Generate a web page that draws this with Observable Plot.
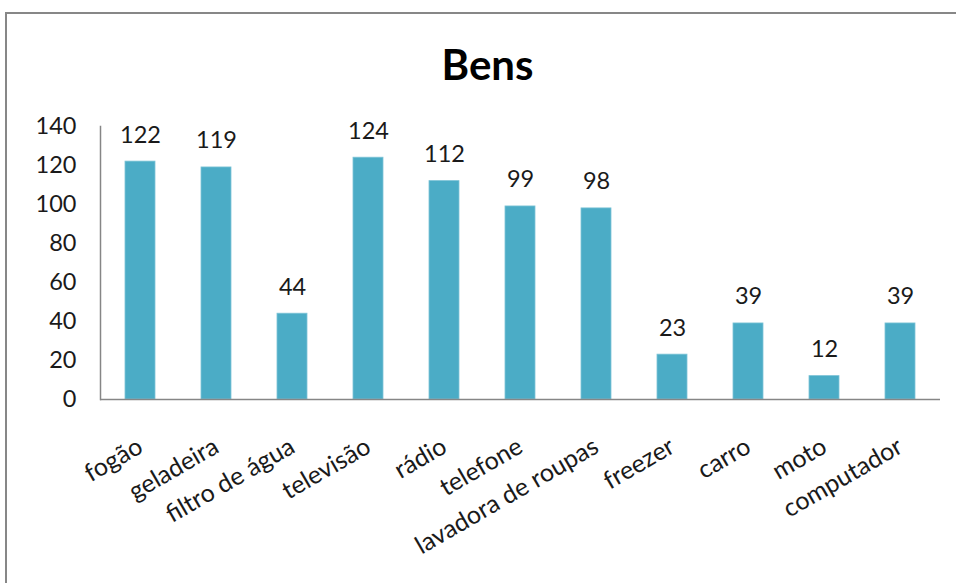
<!DOCTYPE html>
<html>
<head>
<meta charset="utf-8">
<script src="https://cdn.jsdelivr.net/npm/d3@7"></script>
<script src="https://cdn.jsdelivr.net/npm/@observablehq/plot@0.6"></script>
<style>
  html, body { margin: 0; padding: 0; background: #fff; }
  #wrap { position: relative; width: 956px; height: 583px; overflow: hidden; font-family: Lato, "Open Sans", sans-serif; }
  #frame { position: absolute; left: 5px; top: 12px; width: 1000px; height: 700px; border: 2px solid #878787; box-sizing: border-box; }
  #title { position: absolute; left: 0; top: 43px; width: 975px; text-align: center; font: bold 42px/42px Lato, sans-serif; color: #000; }
  #chart { position: absolute; left: 0; top: 100px; }
</style>
</head>
<body>
<div id="wrap">
  <div id="frame"></div>
  <div id="title">Bens</div>
  <div id="chart"></div>
</div>
<script>
const categories = ["fogão", "geladeira", "filtro de água", "televisão", "rádio", "telefone", "lavadora de roupas", "freezer", "carro", "moto", "computador"];
const values = [122, 119, 44, 124, 112, 99, 98, 23, 39, 12, 39];
const yTicks = [0, 20, 40, 60, 80, 100, 120, 140];

const data = categories.map((c, i) => ({bem: c, valor: values[i]}));

const chart = Plot.plot({
  width: 956,
  height: 483,
  marginTop: 26,
  marginBottom: 184,
  marginLeft: 100,
  marginRight: 16,
  style: {fontFamily: "Lato, 'Open Sans', sans-serif", fontSize: "23px", color: "#1a1a1a", background: "transparent"},
  x: {domain: categories, paddingInner: 0.6, paddingOuter: 0.3},
  y: {domain: [0, 140]},
  marks: [
    Plot.barY(data, {x: "bem", y: "valor", fill: "#4BACC6", stroke: "#7DC3D6", strokeWidth: 0.8}),
    Plot.text(data, {x: "bem", y: "valor", text: d => String(d.valor), lineAnchor: "bottom", dy: -19, fontSize: 23.5, fill: "#1a1a1a"}),
    Plot.axisY({ticks: yTicks, tickSize: 0, tickPadding: 24, label: null, fontSize: 23.5}),
    Plot.axisX({tickSize: 0, tickRotate: -30, tickPadding: 45, dx: 0, label: null, fontSize: 25}),
    Plot.frame({anchor: "left", stroke: "#868686", strokeWidth: 1.5}),
    Plot.ruleY([0], {stroke: "#868686", strokeWidth: 1.5})
  ]
});
document.getElementById("chart").appendChild(chart);
</script>
</body>
</html>
